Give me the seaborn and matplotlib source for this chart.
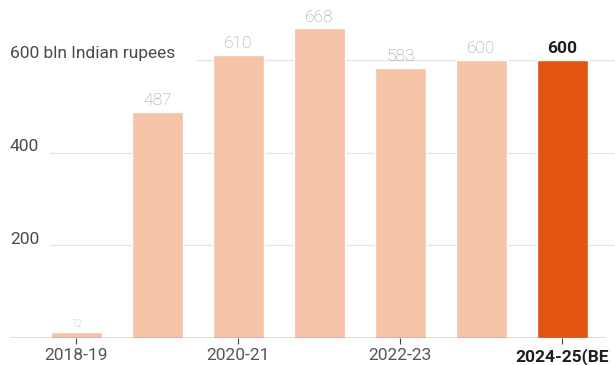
import matplotlib
matplotlib.use("Agg")
import matplotlib.pyplot as plt
import seaborn as sns
import pandas as pd

years  = ["2018-19", "2019-20", "2020-21", "2021-22", "2022-23", "2023-24", "2024-25(BE)"]
values = [12, 487, 610, 668, 583, 600, 600]
shown_ticks = ["2018-19", "2020-21", "2022-23", "2024-25(BE"]
grid_vals   = [200, 400, 600]
grid_labels = ["200", "400", "600 bln Indian rupees"]

light = "#F5C3A8"
dark  = "#E2540F"

sns.set_theme(style="white")
plt.rcParams["font.family"] = ["Roboto", "DejaVu Sans"]

df = pd.DataFrame({"year": years, "value": values})
df["kind"] = ["past"] * (len(years) - 1) + ["budget"]

fig = plt.figure(figsize=(6.15, 3.65), dpi=100)
ax = fig.add_axes([0, 0.074, 1, 0.926])

sns.barplot(data=df, x="year", y="value", hue="kind", palette={"past": light, "budget": dark},
            width=0.63, dodge=False, legend=False, saturation=1, ax=ax, zorder=2)

ax.set_xlim(-0.94, 6.65)
ax.set_ylim(0, 729)

# gridlines start after their text labels
starts = [0.082, 0.082, 0.318]
for v, lab, s in zip(grid_vals, grid_labels, starts):
    ax.axhline(v, xmin=s, xmax=1, color="#e3e3e3", lw=0.9, zorder=1)
    ax.text(0.016, v + 3, lab, transform=ax.get_yaxis_transform(), ha="left", va="baseline",
            fontsize=12.5, color="#4a4a4a")

# value labels
for i, v in enumerate(values):
    last = i == len(values) - 1
    ax.text(i, v + 8, str(v), ha="center", va="bottom",
            fontsize=7 if v < 50 else 12.5,
            color="#1e1e1e" if last else "#9c9c9c",
            fontweight="bold" if last else "light")

ax.axhline(0, xmin=0.016, xmax=0.984, color="#444444", lw=1.0, zorder=3)

ax.set_xticks([0, 2, 4, 6])
ax.set_xticklabels(shown_ticks, fontsize=12.5, color="#555555")
ax.get_xticklabels()[-1].set_fontweight("bold")
ax.get_xticklabels()[-1].set_color("#1e1e1e")
ax.tick_params(axis="x", length=4, width=0.8, color="#444444", bottom=True, pad=3)
ax.set_yticks([])
ax.set_xlabel("")
ax.set_ylabel("")
for sp in ax.spines.values():
    sp.set_visible(False)

fig.savefig("out.png", dpi=100)
